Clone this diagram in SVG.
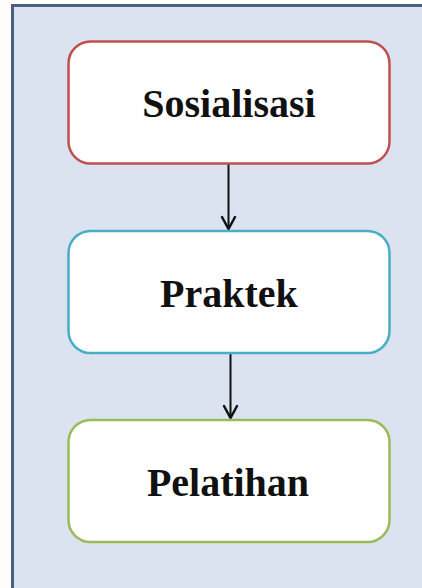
<svg xmlns="http://www.w3.org/2000/svg" width="422" height="588" viewBox="0 0 422 588">
<defs>
<style>
.box{fill:#ffffff;stroke-width:2.5}
.lbl{font-family:"Liberation Serif","Times New Roman",serif;font-weight:bold;font-size:40px;fill:#111111;text-anchor:middle}
.conn{stroke:#111111;stroke-width:2;fill:none}
.head{stroke:#111111;stroke-width:2.5;fill:none;stroke-linecap:round;stroke-linejoin:round}
</style>
</defs>
<rect x="0" y="0" width="422" height="588" fill="#fefdfb"/>
<rect x="12.5" y="5.5" width="450" height="600" fill="#dae3ef" stroke="#4b5f80" stroke-width="3"/>
<g id="connectors">
<line class="conn" x1="228.5" y1="164" x2="228.5" y2="229"/>
<polyline class="head" points="222,217 228.5,229 235,217"/>
<line class="conn" x1="230.5" y1="353" x2="230.5" y2="418"/>
<polyline class="head" points="224,406 230.5,418 237,406"/>
</g>
<g id="sosialisasi">
<rect class="box" x="68.5" y="41.5" width="321" height="122" rx="22" stroke="#c0504d"/>
<text class="lbl" x="229" y="117">Sosialisasi</text>
</g>
<g id="praktek">
<rect class="box" x="68.5" y="231" width="321" height="122" rx="22" stroke="#4bacc6"/>
<text class="lbl" x="229" y="307">Praktek</text>
</g>
<g id="pelatihan">
<rect class="box" x="68.5" y="420" width="321" height="122" rx="22" stroke="#9bbb59"/>
<text class="lbl" x="228" y="496">Pelatihan</text>
</g>
</svg>
